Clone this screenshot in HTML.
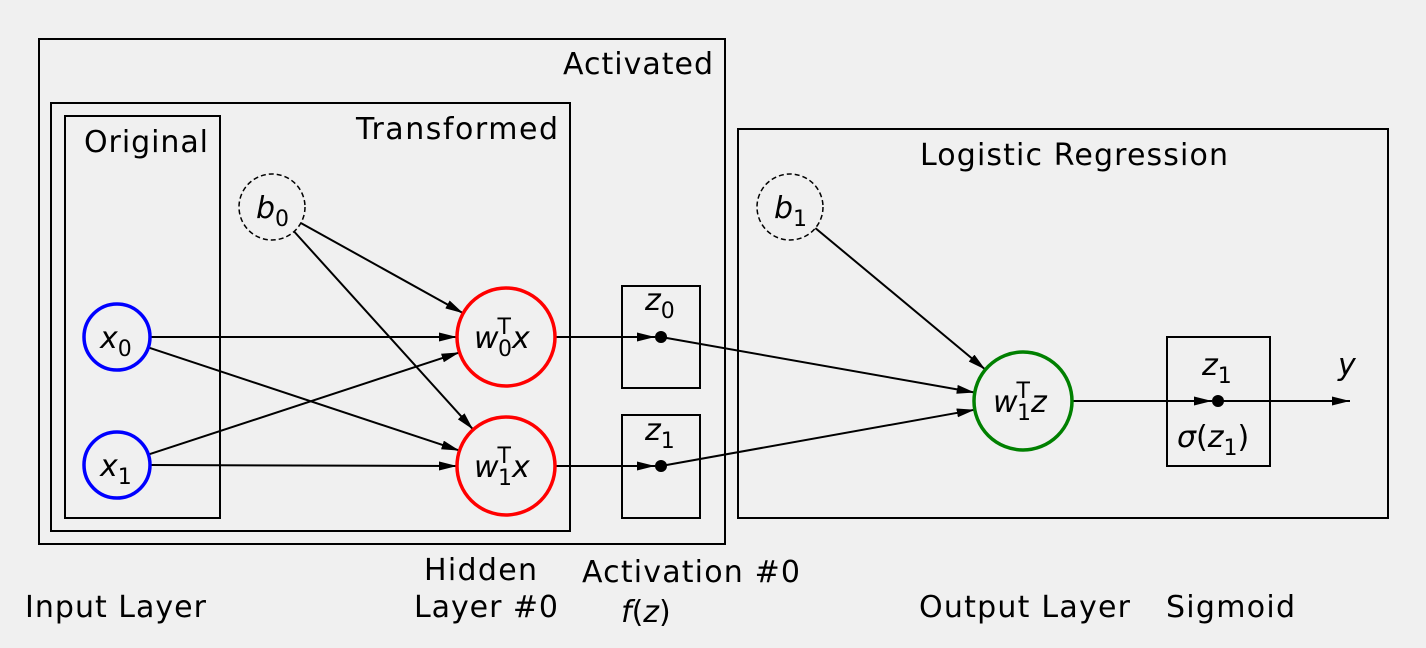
<!DOCTYPE html>
<html><head><meta charset="utf-8"><style>
html,body{margin:0;padding:0;background:#f0f0f0;}
svg{display:block;font-family:"DejaVu Sans","Liberation Sans",sans-serif;}
text{font-size:30px;fill:#000;}
.i{font-style:italic;}
.s{font-size:22px;font-style:normal;}
</style></head><body>
<svg width="1426" height="648" viewBox="0 0 1426 648" xmlns="http://www.w3.org/2000/svg">
<defs><marker id="a" markerUnits="userSpaceOnUse" markerWidth="20" markerHeight="10" refX="18" refY="4.5" orient="auto"><path d="M0,0 L18,4.5 L0,9 z" fill="#000"/></marker></defs>
<rect width="1426" height="648" fill="#f0f0f0"/>
<g fill="none" stroke="#000" stroke-width="2">
<rect x="39" y="39" width="686" height="505"/>
<rect x="51" y="103" width="519" height="428"/>
<rect x="65" y="116" width="155" height="402"/>
<rect x="738" y="129" width="650" height="389"/>
<rect x="622" y="286" width="78" height="102"/>
<rect x="622" y="415" width="78" height="103"/>
<rect x="1167" y="337" width="103" height="129"/>
</g>
<g stroke="#000" stroke-width="2" fill="none" marker-end="url(#a)">
<line x1="150" y1="337" x2="457" y2="337"/>
<line x1="148.3" y1="347.4" x2="459.5" y2="450.6"/>
<line x1="148.3" y1="454.6" x2="459.5" y2="352.4"/>
<line x1="150" y1="465" x2="457" y2="466"/>
<line x1="300.8" y1="223" x2="463.2" y2="313.2"/>
<line x1="294.1" y1="231.5" x2="473.2" y2="429.6"/>
<line x1="555" y1="337" x2="655" y2="337"/>
<line x1="555" y1="466" x2="655" y2="466"/>
<line x1="661" y1="337" x2="974.7" y2="392.5"/>
<line x1="661" y1="466" x2="974.8" y2="409.7"/>
<line x1="815.4" y1="228.1" x2="985.4" y2="369.6"/>
<line x1="1072" y1="401" x2="1212" y2="401"/>
<line x1="1218" y1="401" x2="1350" y2="401"/>
</g>
<g fill="#000"><circle cx="661" cy="337" r="6"/><circle cx="661" cy="466" r="6"/><circle cx="1218" cy="401" r="6"/></g>
<g fill="none" stroke-width="3.5">
<circle cx="117" cy="337" r="33" stroke="#0000ff"/>
<circle cx="117" cy="465" r="33" stroke="#0000ff"/>
<circle cx="506" cy="337" r="49" stroke="#ff0000"/>
<circle cx="506" cy="466" r="49" stroke="#ff0000"/>
<circle cx="1023" cy="401" r="49" stroke="#008000"/>
</g>
<g fill="none" stroke="#000" stroke-width="1.5" stroke-dasharray="5,3">
<circle cx="272" cy="207" r="33"/>
<circle cx="790" cy="207" r="33"/>
</g>
<text x="563" y="74" textLength="150">Activated</text>
<text x="356" y="139" textLength="202">Transformed</text>
<text x="84" y="152" textLength="124">Original</text>
<text x="920" y="165" textLength="308">Logistic Regression</text>
<text x="100" y="348"><tspan class="i">x</tspan><tspan class="s" dy="8">0</tspan></text>
<text x="100" y="476"><tspan class="i">x</tspan><tspan class="s" dy="8">1</tspan></text>
<text x="256" y="218"><tspan class="i">b</tspan><tspan class="s" dy="8">0</tspan></text>
<text x="774" y="218"><tspan class="i">b</tspan><tspan class="s" dy="8">1</tspan></text>
<text x="474" y="348"><tspan class="i">w</tspan><tspan class="s i" dx="-1" dy="-14">T</tspan><tspan class="s" dx="-13" dy="22">0</tspan><tspan class="i" dy="-8">x</tspan></text>
<text x="474" y="477"><tspan class="i">w</tspan><tspan class="s i" dx="-1" dy="-14">T</tspan><tspan class="s" dx="-13" dy="22">1</tspan><tspan class="i" dy="-8">x</tspan></text>
<text x="993" y="412"><tspan class="i">w</tspan><tspan class="s i" dx="-1" dy="-14">T</tspan><tspan class="s" dx="-13" dy="22">1</tspan><tspan class="i" dy="-8">z</tspan></text>
<text x="645" y="310"><tspan class="i">z</tspan><tspan class="s" dy="8">0</tspan></text>
<text x="645" y="440"><tspan class="i">z</tspan><tspan class="s" dy="8">1</tspan></text>
<text x="1202" y="375"><tspan class="i">z</tspan><tspan class="s" dy="8">1</tspan></text>
<text x="1177" y="447"><tspan class="i">σ</tspan>(<tspan class="i">z</tspan><tspan class="s" dy="8">1</tspan><tspan dy="-8">)</tspan></text>
<text x="1338" y="375" class="i">y</text>
<text x="25" y="617" textLength="181">Input Layer</text>
<text x="424" y="580" textLength="113">Hidden</text>
<text x="414" y="617" textLength="144">Layer #0</text>
<text x="582" y="582" textLength="218">Activation #0</text>
<text x="621" y="622"><tspan class="i">f</tspan>(<tspan class="i">z</tspan>)</text>
<text x="919" y="617" textLength="211">Output Layer</text>
<text x="1166" y="617" textLength="129">Sigmoid</text>
</svg>
</body></html>
